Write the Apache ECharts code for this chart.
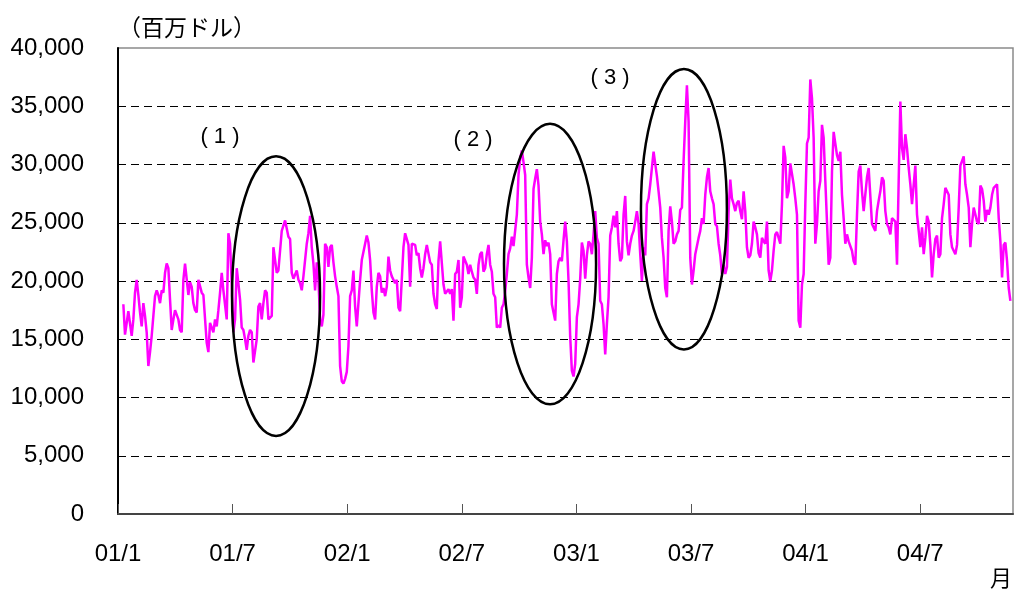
<!DOCTYPE html>
<html>
<head>
<meta charset="utf-8">
<script src="https://cdn.jsdelivr.net/npm/echarts@6/dist/echarts.min.js"></script>
<style>
  html, body { margin: 0; padding: 0; background: #fff; }
  #chart { width: 1014px; height: 589px; }
</style>
</head>
<body>
<div id="chart"></div>
<script>
// Daily turnover (million dollars), sampled evenly through each year.
const sales2001 = [
  18000, 15400, 15400, 17400, 17500, 15300, 16700, 19000, 20100, 18800,
  17300, 16100, 18100, 17000, 15600, 12700, 13900, 15300, 17000, 18700,
  19200, 18800, 18100, 19200, 19000, 20700, 21500, 21100, 18400, 15800,
  16700, 17500, 17400, 16700, 15800, 15600, 20100, 21500, 21600, 18800,
  19900, 19500, 18100, 17500, 17300, 20100, 20200, 19000, 18800, 18700,
  14700, 13900, 16400, 16400, 15600, 16700, 16100, 17500, 19000, 20700,
  19200, 19200, 16700, 24100, 23200, 19800, 15600, 16700, 21100, 19800,
  18400, 16000, 15800, 15000, 14100, 15300, 15800, 15600, 13000, 13000,
  15000, 17800, 18100, 16700, 18100, 19200, 19000, 16700,
  16700, 17000, 22900, 22900, 20700, 20900, 21000, 24300, 24300, 25200,
  24500, 23800, 23600, 20700, 20200, 20200, 20900, 20100, 19800, 19200,
  20400, 20400, 23200, 24100, 25600, 22900, 21500, 19200, 21600, 20100,
  16700, 16100, 17100, 23200, 22900, 21200, 22900, 23100, 21600, 20400,
  19500, 18700, 12700, 11400, 11200, 11600, 12200
];
const sales2002 = [
  14400, 18700, 19200,
  20900, 17800, 16100, 16100, 20100, 21800, 21900, 23200, 23900, 23300,
  21800, 19200, 17300, 16700, 19500, 20700, 20400, 19000, 19400, 18700,
  19500, 22100, 20900, 20400, 20400, 19800, 20100, 17700, 17400, 17500,
  22900, 24100, 24200, 23100, 19500, 23200, 23300, 23100, 22200, 22400,
  21100, 20300, 21100, 22300, 23100, 23000, 21600, 21400, 18900, 18000,
  17600, 21700, 23400, 23400, 19700, 18900, 18900, 19300, 18900, 19300,
  16600, 20600, 20800, 21800, 17700, 18600, 22100, 22000, 21400, 20600,
  21400, 20800, 20300, 20100, 18900, 21400, 22300, 22500, 20800, 21100,
  22300, 23100, 21400, 20800, 18900, 18600, 16000, 16200, 16000, 17700,
  18000, 19100, 20600, 22300, 22800, 23800, 23000, 23000, 25700, 29100,
  30500, 31200, 30200, 29100, 21400, 20300, 19400, 22000, 27900, 28800,
  29600, 28200, 25100, 24000, 22300, 23500, 23000, 23300, 22300, 18000,
  17300, 16600, 20600, 21700, 22000, 21700, 23500, 25100, 23400, 20000,
  15200, 12300, 11800, 12900
];
const sales2003 = [
  16900, 18000, 20200, 23300, 22600, 20200,
  22200, 23400, 23200, 22300, 24000, 26000, 23700, 23200, 18300, 18000,
  16300, 13700, 16300, 18600, 23900, 24600, 25600, 24600, 26000, 23200,
  21700, 22000, 25700, 27300, 23400, 22200, 23200, 23900, 24300, 25100,
  26000, 24900, 22300, 20000, 22900, 22200, 26600, 27100, 28300, 29700,
  31100, 31100, 29000, 27700, 26300, 23700, 22000, 19400, 18600, 24300,
  26400, 25100, 23200, 23400, 24000, 24300, 26100, 26300, 30300, 33700,
  36800, 33700, 22000, 19700, 20900, 22300, 22300, 23700, 24300, 25400,
  24900, 27400, 28900, 29700, 27700, 27100, 26600, 24900, 24700, 23200,
  22200, 20600, 21400, 20600, 21200, 26000, 28700, 27100, 26600, 26000,
  26700, 26900, 26000, 25300, 27700, 26000, 22900, 22000, 22200, 23200,
  25100, 24600, 24000, 22400, 22000, 23700, 23400, 23200, 25100, 20900,
  20000, 20900, 22600, 24000, 24200, 24300, 23200, 26600, 31600, 30600,
  27100, 27700, 30100, 30000, 28300, 27100, 25700, 16600, 16000, 19700,
  20600, 26600
];
const sales2004 = [
  31800, 32300, 37300, 35700, 32300, 23200, 24900, 27700,
  28600, 33400, 32300, 28600, 25100, 21400, 22000, 29400, 32800, 32800,
  30800, 30300, 31100, 27400, 25400, 23200, 24000, 23400, 23400, 22600,
  21700, 21400, 25700, 29400, 29900, 27700, 26000, 26000, 28900, 29700,
  29700, 24900, 24900, 24300, 26000, 26900, 27700, 28900, 28600, 26000,
  24900, 24600, 24000, 25400, 25300, 25100, 21400, 28600, 35400, 31400,
  30400, 32600, 31400, 29700, 28300, 26600, 26600, 29900, 25700, 24300,
  22900, 24600, 22300, 23700, 25600, 25100, 23100, 20300, 22300, 23600,
  23900, 22000, 22300, 25400, 26600, 28000, 27700, 27400, 24000, 22900,
  22600, 22300, 23100, 26300, 29900, 29900, 30700, 28300, 27400, 26300,
  22900, 24900, 26300, 25700, 25100, 24900, 28200, 27900, 26900, 25100,
  26100, 25700, 26300, 27400, 28000, 28000, 28300, 25400, 23400, 20300,
  23100, 23300, 21700, 19400, 18300
];

// Sampling: months after Jan 2001 of the first observation, and spacing (~2.65 days).
const SAMPLE_START = 0.28;
const SAMPLE_STEP = 0.0873;
const AXIS_END_MONTH = 46.86;

const yTicks = [0, 5000, 10000, 15000, 20000, 25000, 30000, 35000, 40000];

// Periods singled out on the chart (x in months after Jan 2001, y in million dollars).
const periodLabels = ['( 1 )', '( 2 )', '( 3 )'];
const periodMonths = [[5.97, 10.58], [20.21, 25.03], [27.38, 31.88]];
const periodValues = [[6700, 30700], [9420, 33490], [14130, 38200]];
const periodLabelAt = [[5.34, 32400], [18.59, 32100], [25.76, 37400]];

const allSales = [].concat(sales2001, sales2002, sales2003, sales2004);
const lineData = allSales.map((v, i) => [SAMPLE_START + i * SAMPLE_STEP, v]);

const chart = echarts.init(document.getElementById('chart'), null, { renderer: 'canvas' });
const LATIN = '"Liberation Sans", Arial, sans-serif';
const CJK = '"Noto Sans CJK JP", "Noto Sans", sans-serif';

chart.setOption({
  animation: false,
  backgroundColor: '#fff',
  grid: {
    left: 118, right: 1, top: 48, bottom: 75,
    show: true, borderColor: '#8a8a8a', borderWidth: 1.5,
    outerBoundsMode: 'none'
  },
  xAxis: {
    type: 'value',
    min: 0, max: AXIS_END_MONTH, interval: 6,
    axisLine: { show: true, lineStyle: { color: '#444', width: 2 } },
    axisTick: { show: true, inside: true, length: 10, lineStyle: { color: '#555', width: 1 } },
    splitLine: { show: false },
    axisLabel: {
      showMaxLabel: false,
      margin: 28,
      fontSize: 24, fontFamily: LATIN, color: '#000',
      formatter: v => {
        if (Math.abs(v % 6) > 1e-6) return '';
        const yr = 1 + Math.floor(v / 12);
        const mo = (v % 12) + 1;
        return (yr < 10 ? '0' : '') + yr + '/' + mo;
      }
    }
  },
  yAxis: {
    type: 'value',
    min: yTicks[0], max: yTicks[yTicks.length - 1], interval: yTicks[1] - yTicks[0],
    name: '（百万ドル）',
    nameLocation: 'end',
    nameGap: 21,
    nameTextStyle: { fontFamily: CJK, fontSize: 23, color: '#000', align: 'left', verticalAlign: 'middle' },
    axisLine: { show: true, lineStyle: { color: '#000', width: 2 } },
    axisTick: { show: false },
    splitLine: {
      show: true, showMinLine: false, showMaxLine: false,
      lineStyle: { color: '#000', width: 1, type: [8, 5] }
    },
    axisLabel: {
      margin: 34, fontSize: 24, fontFamily: LATIN, color: '#000',
      formatter: v => v.toLocaleString('en-US')
    }
  },
  series: [{
    type: 'line',
    data: lineData,
    symbol: 'none',
    lineStyle: { color: '#ff00ff', width: 2.5 },
    z: 3
  }]
});

// Ellipses around the highlighted periods, placed through the axes' own scales.
function toPx(p) { return chart.convertToPixel({ gridIndex: 0 }, p); }
const graphics = [];
periodLabels.forEach((label, k) => {
  const a = toPx([periodMonths[k][0], periodValues[k][0]]);
  const b = toPx([periodMonths[k][1], periodValues[k][1]]);
  graphics.push({
    type: 'ellipse',
    shape: { cx: (a[0] + b[0]) / 2, cy: (a[1] + b[1]) / 2, rx: Math.abs(b[0] - a[0]) / 2, ry: Math.abs(b[1] - a[1]) / 2 },
    style: { fill: 'none', stroke: '#000', lineWidth: 2.5 },
    z: 10
  });
  const t = toPx(periodLabelAt[k]);
  graphics.push({
    type: 'text', x: t[0], y: t[1], z: 10,
    style: { text: label, fill: '#000', font: '22px ' + LATIN, textAlign: 'center', textVerticalAlign: 'middle' }
  });
});
graphics.push({
  type: 'text', right: 2, bottom: 0, z: 10,
  style: { text: '月', fill: '#000', font: '22px ' + CJK }
});
chart.setOption({ graphic: graphics });
</script>
</body>
</html>
